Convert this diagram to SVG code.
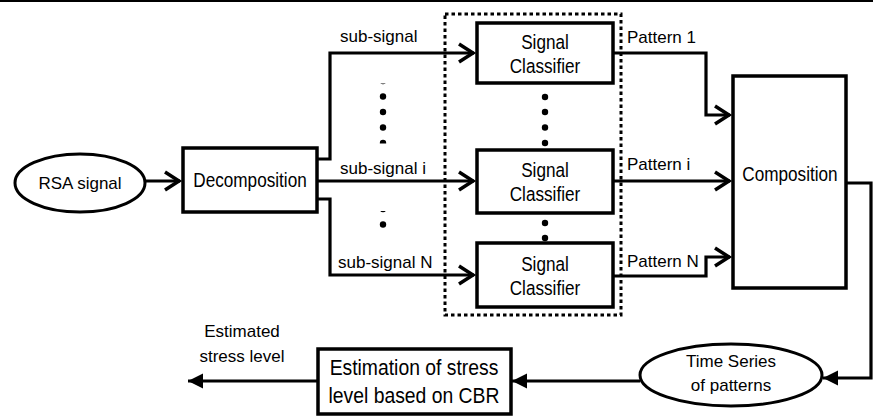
<svg xmlns="http://www.w3.org/2000/svg" width="873" height="417" viewBox="0 0 873 417">
<style>
text{font-family:"Liberation Sans",Arial,sans-serif;fill:#000}
.t{font-size:17px}
.b{font-size:19.5px;text-anchor:middle;transform-box:fill-box;transform-origin:center;transform:scaleX(0.88)}
.e{font-size:21.5px;text-anchor:middle;transform-box:fill-box;transform-origin:center;transform:scaleX(0.9)}
.m{text-anchor:middle}
.box{fill:#fff;stroke:#000;stroke-width:3.5}
.ln{fill:none;stroke:#000;stroke-width:3.2}
.dot{fill:#000}
</style>
<defs>
<marker id="open" markerUnits="userSpaceOnUse" viewBox="-20 -12 24 24" markerWidth="24" markerHeight="24" refX="0" refY="0" orient="auto" overflow="visible">
<path d="M-15,-9 L-1,0 L-15,9" fill="none" stroke="#000" stroke-width="3.5"/>
</marker>
<marker id="solid" markerUnits="userSpaceOnUse" viewBox="-20 -12 24 24" markerWidth="24" markerHeight="24" refX="0" refY="0" orient="auto" overflow="visible">
<path d="M0,0 L-15,-7.5 L-15,7.5 Z" fill="#000"/>
</marker>
<clipPath id="c1"><rect x="370" y="83.5" width="30" height="60"/></clipPath>
<clipPath id="c2"><rect x="370" y="211" width="30" height="30"/></clipPath>
</defs>
<rect x="0" y="0" width="873" height="2" fill="#000"/>

<g id="group-classifiers">
<rect x="445" y="14" width="176" height="301" fill="none" stroke="#000" stroke-width="3" stroke-dasharray="3.5 3"/>
</g>

<g id="connectors">
<path class="ln" d="M145,181 H180" marker-end="url(#open)"/>
<path class="ln" d="M317,159 H330 V53 H474" marker-end="url(#open)"/>
<path class="ln" d="M317,181 H474" marker-end="url(#open)"/>
<path class="ln" d="M317,199 H330 V275 H474" marker-end="url(#open)"/>
<path class="ln" d="M613,53 H706 V115 H730" marker-end="url(#open)"/>
<path class="ln" d="M613,181 H730" marker-end="url(#open)"/>
<path class="ln" d="M613,276 H706 V257 H730" marker-end="url(#open)"/>
<path class="ln" d="M846,183 H871 V378 H823" marker-end="url(#solid)"/>
<path class="ln" d="M640,381 H512" marker-end="url(#solid)"/>
<path class="ln" d="M317,381 H188" marker-end="url(#solid)"/>
</g>

<g id="dots">
<g clip-path="url(#c1)">
<circle class="dot" cx="383" cy="81" r="3.2"/>
<circle class="dot" cx="383" cy="96.5" r="3.2"/>
<circle class="dot" cx="383" cy="112" r="3.2"/>
<circle class="dot" cx="383" cy="127.5" r="3.2"/>
<circle class="dot" cx="383" cy="143" r="3.2"/>
</g>
<g clip-path="url(#c2)">
<circle class="dot" cx="383" cy="209" r="3.2"/>
<circle class="dot" cx="383" cy="224.5" r="3.2"/>
</g>
<circle class="dot" cx="545" cy="97" r="3.2"/>
<circle class="dot" cx="545" cy="112" r="3.2"/>
<circle class="dot" cx="545" cy="127.5" r="3.2"/>
<circle class="dot" cx="545" cy="143" r="3.2"/>
<circle class="dot" cx="545" cy="223" r="3.2"/>
<circle class="dot" cx="545" cy="238" r="3.2"/>
</g>

<g id="rsa">
<ellipse cx="80" cy="183" rx="65" ry="29" fill="#fff" stroke="#000" stroke-width="3"/>
<text class="t m" x="80" y="189">RSA signal</text>
</g>
<g id="decomposition">
<rect class="box" x="183" y="148" width="134" height="64"/>
<text class="b" x="250" y="187">Decomposition</text>
</g>

<g id="labels">
<text class="t" x="340" y="42">sub-signal</text>
<text class="t" x="340" y="174">sub-signal i</text>
<text class="t" x="338" y="268">sub-signal N</text>
<text class="t" x="627" y="43">Pattern 1</text>
<text class="t" x="627" y="170">Pattern i</text>
<text class="t" x="627" y="267">Pattern N</text>
<text class="t m" x="242" y="337">Estimated</text>
<text class="t m" x="242" y="362">stress level</text>
</g>

<g id="classifier-1">
<rect class="box" x="477" y="23" width="136" height="60"/>
<text class="b" x="545" y="49">Signal</text>
<text class="b" x="545" y="73">Classifier</text>
</g>
<g id="classifier-i">
<rect class="box" x="477" y="150" width="136" height="63"/>
<text class="b" x="545" y="177">Signal</text>
<text class="b" x="545" y="201">Classifier</text>
</g>
<g id="classifier-n">
<rect class="box" x="477" y="243" width="136" height="64"/>
<text class="b" x="545" y="271">Signal</text>
<text class="b" x="545" y="295">Classifier</text>
</g>

<g id="composition">
<rect class="box" x="733" y="76" width="113" height="212"/>
<text class="b" x="790" y="181">Composition</text>
</g>

<g id="time-series">
<ellipse cx="731" cy="375" rx="91" ry="31" fill="#fff" stroke="#000" stroke-width="3"/>
<text class="t m" x="731" y="367">Time Series</text>
<text class="t m" x="731" y="391">of patterns</text>
</g>

<g id="estimation">
<rect class="box" x="318" y="349" width="193" height="65"/>
<text class="e" x="414" y="375">Estimation of stress</text>
<text class="e" x="414" y="403">level based on CBR</text>
</g>
</svg>
